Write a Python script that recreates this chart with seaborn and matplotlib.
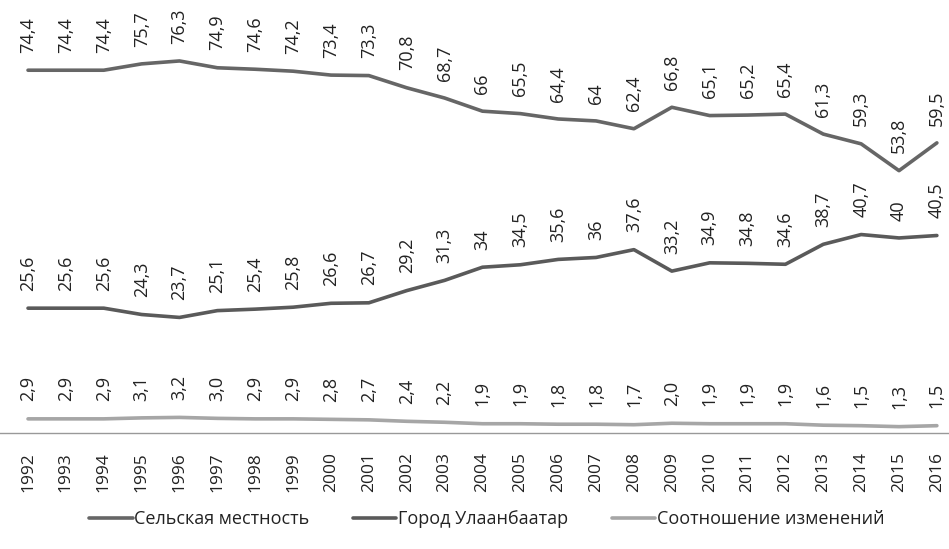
import matplotlib
matplotlib.use("Agg")
import matplotlib.pyplot as plt
import seaborn as sns
import pandas as pd

# données
years = list(range(1992, 2017))
rural = [74.4, 74.4, 74.4, 75.7, 76.3, 74.9, 74.6, 74.2, 73.4, 73.3, 70.8, 68.7, 66, 65.5,
         64.4, 64, 62.4, 66.8, 65.1, 65.2, 65.4, 61.3, 59.3, 53.8, 59.5]
ulaanbaatar = [25.6, 25.6, 25.6, 24.3, 23.7, 25.1, 25.4, 25.8, 26.6, 26.7, 29.2, 31.3, 34, 34.5,
               35.6, 36, 37.6, 33.2, 34.9, 34.8, 34.6, 38.7, 40.7, 40, 40.5]
ratio = [2.9, 2.9, 2.9, 3.1, 3.2, 3.0, 2.9, 2.9, 2.8, 2.7, 2.4, 2.2, 1.9, 1.9,
         1.8, 1.8, 1.7, 2.0, 1.9, 1.9, 1.9, 1.6, 1.5, 1.3, 1.5]
ratio_labels = ["2,9", "2,9", "2,9", "3,1", "3,2", "3,0", "2,9", "2,9", "2,8", "2,7", "2,4", "2,2",
                "1,9", "1,9", "1,8", "1,8", "1,7", "2,0", "1,9", "1,9", "1,9", "1,6", "1,5", "1,3", "1,5"]

series_names = ["Сельская местность", "Город Улаанбаатар", "Соотношение изменений"]
colors = ["#666666", "#5a5a5a", "#a6a6a6"]

df = pd.DataFrame({"year": years * 3,
                   "value": rural + ulaanbaatar + ratio,
                   "serie": [series_names[0]] * 25 + [series_names[1]] * 25 + [series_names[2]] * 25})


def fmt(v):
    # format à la virgule comme dans l'original (66 et non 66,0)
    if float(v).is_integer() and v > 10:
        return str(int(v))
    return f"{v:.1f}".replace(".", ",")


sns.set_style("white")
plt.rcParams["font.family"] = ["Open Sans", "DejaVu Sans"]

fig = plt.figure(figsize=(9.49, 5.49), dpi=100)
ax = fig.add_axes([0, 116 / 549, 1, 433 / 549])

sns.lineplot(data=df, x="year", y="value", hue="serie", palette=colors,
             linewidth=2.6, ax=ax, legend=True)

for serie, labels in [(rural, [fmt(v) for v in rural]),
                      (ulaanbaatar, [fmt(v) for v in ulaanbaatar]),
                      (ratio, ratio_labels)]:
    for x, y, lab in zip(years, serie, labels):
        ax.annotate(lab, xy=(x, y), xytext=(0, 12.5), textcoords="offset points",
                    rotation=90, ha="center", va="bottom", fontsize=13, color="#222222")

ax.set_xlim(1991.26, 2016.32)
ax.set_ylim(0, 88.8)
ax.set_xticks(years)
ax.set_xticklabels([str(y) for y in years], rotation=90, fontsize=12.5, color="#222222")
ax.tick_params(axis="x", length=0, pad=14)
ax.set_yticks([])
ax.set_xlabel("")
ax.set_ylabel("")
for s in ["top", "left", "right"]:
    ax.spines[s].set_visible(False)
ax.spines["bottom"].set_color("#999999")
ax.spines["bottom"].set_linewidth(1)

leg = ax.legend(loc="center", bbox_to_anchor=(0.513, -86 / 433), ncol=3, frameon=False,
                fontsize=13, handlelength=2.4, handletextpad=0.1, columnspacing=2.4)
for t in leg.get_texts():
    t.set_color("#222222")

fig.savefig("out.png", dpi=100)
